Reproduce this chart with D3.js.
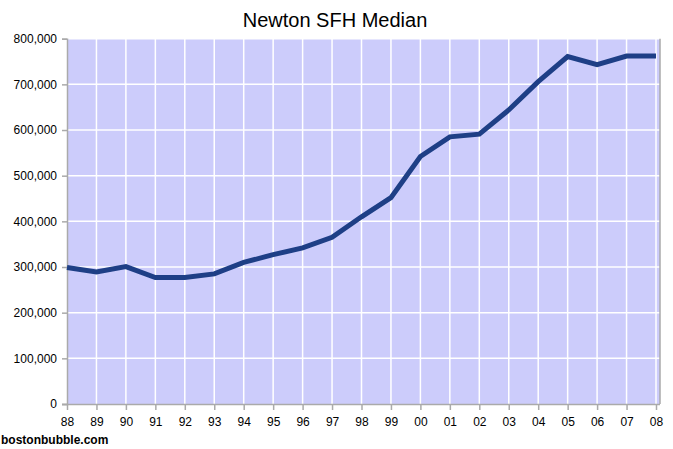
<!DOCTYPE html>
<html><head><meta charset="utf-8">
<script src="https://cdn.jsdelivr.net/npm/d3@7"></script>
<style>body{margin:0;background:#fff}svg{display:block}</style>
</head><body>
<svg id="c" width="673" height="449"></svg>
<script>
const years = ["88","89","90","91","92","93","94","95","96","97","98","99","00","01","02","03","04","05","06","07","08"];
const medians = [299000,289000,301000,277000,277000,285000,310000,327000,342000,365000,410000,452000,542000,585000,591000,644000,706000,761000,743000,762000,762000];
const yTicks = [0,100000,200000,300000,400000,500000,600000,700000,800000];
const title = "Newton SFH Median";
const credit = "bostonbubble.com";

(function(){
const svg = d3.select("#c");
const pL = 67, pR = 660, pT = 38.7, pB = 404;
const x = d3.scalePoint().domain(years).range([pL, 656]);
const y = d3.scaleLinear().domain([0, 800000]).range([pB, pT]);

svg.append("rect").attr("x", pL).attr("y", pT).attr("width", pR-pL).attr("height", pB-pT).attr("fill", "#ccccfb");

// grid
svg.append("g").selectAll("line").data(yTicks.filter(d=>d>0)).join("line")
  .attr("x1", pL).attr("x2", pR).attr("y1", d=>y(d)).attr("y2", d=>y(d))
  .attr("stroke", "#fff").attr("stroke-width", 1.5);
svg.append("g").selectAll("line").data(years.slice(1)).join("line")
  .attr("x1", d=>x(d)).attr("x2", d=>x(d)).attr("y1", pT).attr("y2", pB)
  .attr("stroke", "#fff").attr("stroke-width", 1.5);

// right border
svg.append("line").attr("x1", pR).attr("x2", pR).attr("y1", pT).attr("y2", pB).attr("stroke", "#aaa").attr("stroke-width", 1.5);

const fmt = d3.format(",");
const yAxis = d3.axisLeft(y).tickValues(yTicks).tickFormat(d=>fmt(d)).tickSize(5).tickPadding(5);
const gy = svg.append("g").attr("transform", `translate(${pL},0)`).call(yAxis);
const xAxis = d3.axisBottom(x).tickSize(6).tickPadding(7);
const gx = svg.append("g").attr("transform", `translate(0,${pB})`).call(xAxis);
[gy, gx].forEach(g => {
  g.select(".domain").attr("stroke", "#aaa").attr("stroke-width", 1.5);
  g.selectAll(".tick line").attr("stroke", "#aaa").attr("stroke-width", 1.5);
  g.selectAll("text").attr("fill", "#000").style("font-family", "Liberation Sans, Arial, sans-serif").style("font-size", "12px");
});
gx.select(".domain").attr("d", `M${pL-5},0.5H${pR}`);

// line
svg.append("path").datum(medians)
  .attr("d", d3.line().x((d,i)=>x(years[i])).y(d=>y(d)))
  .attr("fill", "none").attr("stroke", "#1e3f86").attr("stroke-width", 5).attr("stroke-linejoin", "miter");

svg.append("text").attr("x", 335).attr("y", 27).attr("text-anchor", "middle")
  .style("font-family", "Liberation Sans, Arial, sans-serif").style("font-size", "20px").text(title);
svg.append("text").attr("x", 1).attr("y", 444)
  .style("font-family", "Liberation Sans, Arial, sans-serif").style("font-size", "12px").style("font-weight", "bold").text(credit);
})();
</script>
</body></html>
